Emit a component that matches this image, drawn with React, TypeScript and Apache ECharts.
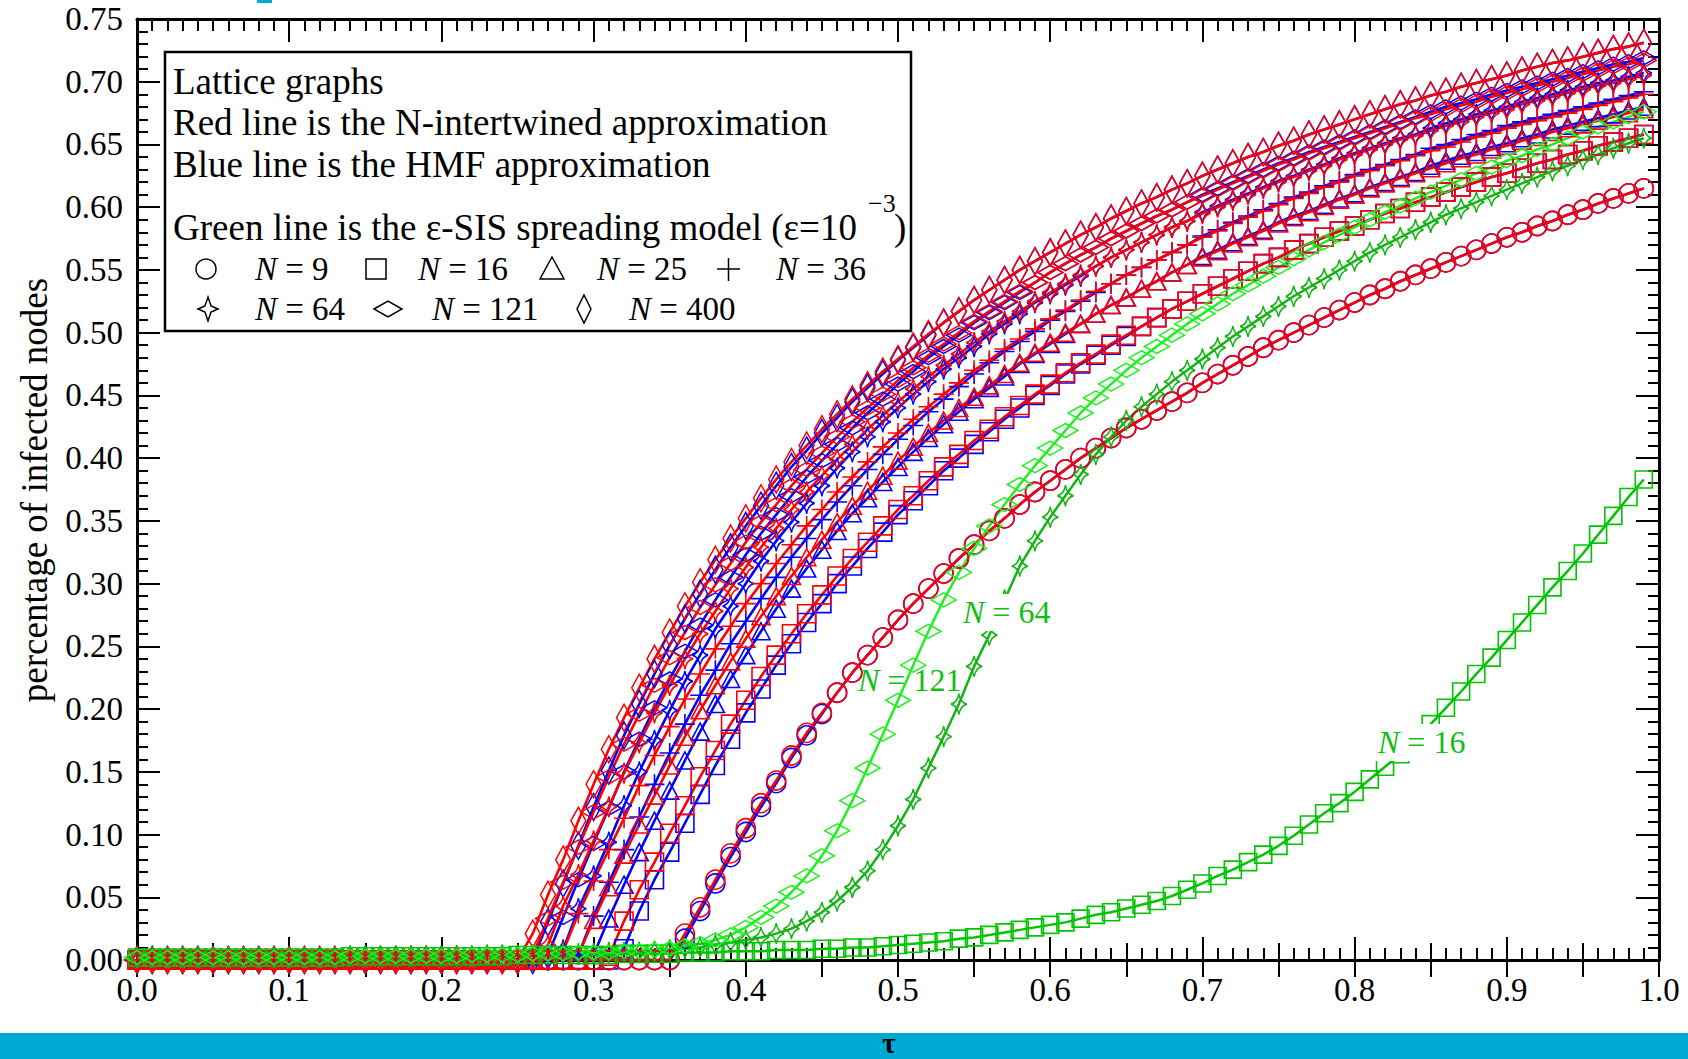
import React, { useEffect, useRef } from 'react';
import * as echarts from 'echarts';

// tau grid (x values of every marker)
const TAU = [
  0.00, 0.01, 0.02, 0.03, 0.04, 0.05, 0.06, 0.07, 0.08, 0.09,
  0.10, 0.11, 0.12, 0.13, 0.14, 0.15, 0.16, 0.17, 0.18, 0.19,
  0.20, 0.21, 0.22, 0.23, 0.24, 0.25, 0.26, 0.27, 0.28, 0.29,
  0.30, 0.31, 0.32, 0.33, 0.34, 0.35, 0.36, 0.37, 0.38, 0.39,
  0.40, 0.41, 0.42, 0.43, 0.44, 0.45, 0.46, 0.47, 0.48, 0.49,
  0.50, 0.51, 0.52, 0.53, 0.54, 0.55, 0.56, 0.57, 0.58, 0.59,
  0.60, 0.61, 0.62, 0.63, 0.64, 0.65, 0.66, 0.67, 0.68, 0.69,
  0.70, 0.71, 0.72, 0.73, 0.74, 0.75, 0.76, 0.77, 0.78, 0.79,
  0.80, 0.81, 0.82, 0.83, 0.84, 0.85, 0.86, 0.87, 0.88, 0.89,
  0.90, 0.91, 0.92, 0.93, 0.94, 0.95, 0.96, 0.97, 0.98, 0.99,
];

const X_TICKS = [0, 0.1, 0.2, 0.3, 0.4, 0.5, 0.6, 0.7, 0.8, 0.9, 1.0];
const Y_TICKS = [0, 0.05, 0.1, 0.15, 0.2, 0.25, 0.3, 0.35, 0.4, 0.45, 0.5, 0.55, 0.6, 0.65, 0.7, 0.75];

// ---- N-intertwined (red) and HMF (blue) ----
const RED_400 = [
  0,0,0,0,0,0,0,0,0,0, 0,0,0,0,0,0,0,0,0,0, 0,0,0,0,0,0,
  0.021,0.052,0.080,0.111,0.140,0.168,0.193,0.217,0.240,0.261,
  0.282,0.301,0.319,0.336,0.352,0.368,0.383,0.397,0.410,0.423,
  0.435,0.447,0.458,0.469,0.479,0.489,0.499,0.508,0.517,0.526,
  0.534,0.542,0.550,0.557,0.564,0.571,0.578,0.584,0.591,0.597,
  0.603,0.608,0.614,0.619,0.625,0.630,0.635,0.640,0.644,0.649,
  0.653,0.658,0.662,0.666,0.670,0.674,0.678,0.682,0.685,0.689,
  0.692,0.696,0.699,0.702,0.705,0.709,0.712,0.715,0.717,0.720,
  0.723,0.726,0.728,0.731,
];
const BLUE_400 = [
  0,0,0,0,0,0,0,0,0,0, 0,0,0,0,0,0,0,0,0,0, 0,0,0,0,0,0,0,
  0.030,0.061,0.091,0.122,0.151,0.179,0.204,0.228,0.251,
  0.272,0.292,0.311,0.329,0.346,0.362,0.378,0.393,0.406,0.420,
  0.432,0.445,0.456,0.467,0.478,0.488,0.498,0.508,0.517,0.526,
  0.534,0.542,0.550,0.557,0.564,0.571,0.578,0.584,0.591,0.597,
  0.603,0.608,0.614,0.619,0.625,0.630,0.635,0.640,0.644,0.649,
  0.653,0.658,0.662,0.666,0.670,0.674,0.678,0.682,0.685,0.689,
  0.692,0.696,0.699,0.702,0.705,0.709,0.712,0.715,0.717,0.720,
  0.723,0.726,0.728,0.731,
];
const RED_121 = [
  0,0,0,0,0,0,0,0,0,0, 0,0,0,0,0,0,0,0,0,0, 0,0,0,0,0,0,
  0.004,0.033,0.062,0.090,0.118,0.146,0.172,0.196,0.219,0.241,
  0.261,0.281,0.299,0.316,0.333,0.349,0.363,0.378,0.391,0.404,
  0.417,0.429,0.440,0.451,0.462,0.472,0.482,0.491,0.500,0.509,
  0.517,0.525,0.533,0.540,0.548,0.555,0.562,0.568,0.575,0.581,
  0.587,0.593,0.598,0.604,0.609,0.614,0.619,0.624,0.629,0.634,
  0.638,0.643,0.647,0.651,0.655,0.659,0.663,0.667,0.671,0.674,
  0.678,0.681,0.684,0.688,0.691,0.694,0.697,0.700,0.703,0.706,
  0.709,0.712,0.714,0.717,
];
const BLUE_121 = [
  0,0,0,0,0,0,0,0,0,0, 0,0,0,0,0,0,0,0,0,0, 0,0,0,0,0,0,0,
  0.004,0.034,0.064,0.093,0.121,0.150,0.176,0.201,0.224,
  0.246,0.267,0.287,0.305,0.323,0.340,0.355,0.370,0.385,0.398,
  0.411,0.424,0.436,0.447,0.459,0.469,0.480,0.489,0.498,0.508,
  0.516,0.524,0.532,0.540,0.548,0.555,0.562,0.568,0.575,0.581,
  0.587,0.593,0.598,0.604,0.610,0.615,0.620,0.625,0.630,0.635,
  0.639,0.644,0.648,0.652,0.656,0.660,0.664,0.668,0.672,0.676,
  0.680,0.683,0.686,0.690,0.693,0.696,0.699,0.702,0.705,0.708,
  0.711,0.714,0.716,0.719,
];
const RED_64 = [
  0,0,0,0,0,0,0,0,0,0, 0,0,0,0,0,0,0,0,0,0, 0,0,0,0,0,0,0,
  0.012,0.043,0.068,0.095,0.122,0.149,0.173,0.197,0.219,
  0.240,0.260,0.278,0.296,0.313,0.329,0.344,0.359,0.373,0.386,
  0.399,0.411,0.423,0.434,0.445,0.455,0.465,0.474,0.483,0.492,
  0.501,0.509,0.517,0.525,0.532,0.539,0.546,0.553,0.560,0.566,
  0.572,0.578,0.584,0.589,0.595,0.600,0.605,0.610,0.615,0.620,
  0.624,0.629,0.633,0.638,0.642,0.646,0.650,0.654,0.657,0.661,
  0.665,0.668,0.672,0.675,0.678,0.682,0.685,0.688,0.691,0.694,
  0.697,0.699,0.702,0.705,
];
const BLUE_64 = [
  0,0,0,0,0,0,0,0,0,0, 0,0,0,0,0,0,0,0,0,0, 0,0,0,0,0,0,0,0,
  0.008,0.041,0.067,0.094,0.123,0.150,0.175,0.199,
  0.222,0.243,0.264,0.282,0.300,0.318,0.334,0.349,0.364,0.378,
  0.392,0.405,0.417,0.429,0.440,0.451,0.461,0.471,0.480,0.489,
  0.499,0.507,0.515,0.524,0.531,0.538,0.545,0.553,0.560,0.566,
  0.572,0.578,0.584,0.589,0.596,0.601,0.606,0.611,0.616,0.621,
  0.625,0.630,0.634,0.639,0.643,0.647,0.651,0.655,0.658,0.663,
  0.667,0.670,0.674,0.677,0.680,0.684,0.687,0.690,0.693,0.696,
  0.699,0.701,0.704,0.707,
];
const RED_36 = [
  0,0,0,0,0,0,0,0,0,0, 0,0,0,0,0,0,0,0,0,0, 0,0,0,0,0,0,0,0,
  0.007,0.037,0.063,0.088,0.113,0.139,0.163,0.186,
  0.208,0.228,0.248,0.266,0.284,0.300,0.316,0.331,0.346,0.359,
  0.373,0.385,0.397,0.409,0.420,0.431,0.441,0.451,0.460,0.470,
  0.478,0.487,0.495,0.503,0.511,0.518,0.526,0.533,0.539,0.546,
  0.552,0.558,0.564,0.570,0.576,0.581,0.587,0.592,0.597,0.602,
  0.607,0.611,0.616,0.620,0.625,0.629,0.633,0.637,0.641,0.645,
  0.648,0.652,0.656,0.659,0.663,0.666,0.669,0.672,0.675,0.678,
  0.681,0.684,0.687,0.690,
];
const BLUE_36 = [
  0,0,0,0,0,0,0,0,0,0, 0,0,0,0,0,0,0,0,0,0, 0,0,0,0,0,0,0,0,0,
  0.004,0.035,0.062,0.088,0.114,0.140,0.165,
  0.188,0.211,0.231,0.252,0.270,0.288,0.305,0.321,0.336,0.351,
  0.365,0.378,0.391,0.403,0.415,0.426,0.437,0.447,0.457,0.467,
  0.476,0.485,0.493,0.501,0.510,0.517,0.525,0.532,0.539,0.546,
  0.552,0.558,0.564,0.570,0.577,0.582,0.588,0.593,0.598,0.603,
  0.608,0.612,0.617,0.621,0.626,0.630,0.634,0.638,0.642,0.647,
  0.650,0.654,0.658,0.661,0.665,0.668,0.671,0.674,0.677,0.680,
  0.683,0.686,0.689,0.692,
];
const RED_25 = [
  0,0,0,0,0,0,0,0,0,0, 0,0,0,0,0,0,0,0,0,0, 0,0,0,0,0,0,0,0,0,
  0.004,0.032,0.058,0.084,0.108,0.131,0.155,
  0.178,0.199,0.219,0.238,0.256,0.274,0.290,0.306,0.321,0.335,
  0.349,0.362,0.374,0.386,0.398,0.409,0.420,0.430,0.440,0.449,
  0.458,0.467,0.476,0.484,0.492,0.500,0.507,0.515,0.522,0.528,
  0.535,0.541,0.548,0.554,0.560,0.565,0.571,0.576,0.581,0.587,
  0.592,0.596,0.601,0.606,0.610,0.615,0.619,0.623,0.627,0.631,
  0.635,0.639,0.642,0.646,0.649,0.653,0.656,0.660,0.663,0.666,
  0.669,0.672,0.675,0.678,
];
const BLUE_25 = [
  0,0,0,0,0,0,0,0,0,0, 0,0,0,0,0,0,0,0,0,0, 0,0,0,0,0,0,0,0,0,0,
  0.004,0.033,0.060,0.086,0.111,0.135,
  0.159,0.182,0.204,0.224,0.243,0.262,0.280,0.296,0.312,0.327,
  0.342,0.356,0.368,0.381,0.393,0.405,0.416,0.427,0.437,0.447,
  0.456,0.465,0.475,0.483,0.491,0.499,0.507,0.515,0.522,0.528,
  0.535,0.541,0.548,0.554,0.561,0.566,0.572,0.577,0.582,0.588,
  0.593,0.597,0.602,0.607,0.611,0.616,0.620,0.624,0.628,0.633,
  0.637,0.641,0.644,0.648,0.651,0.655,0.658,0.662,0.665,0.668,
  0.671,0.674,0.677,0.680,
];
const RED_16 = [
  0,0,0,0,0,0,0,0,0,0, 0,0,0,0,0,0,0,0,0,0, 0,0,0,0,0,0,0,0,0,0, 0,
  0.003,0.031,0.056,0.078,0.101,
  0.123,0.146,0.167,0.188,0.207,0.226,0.243,0.260,0.276,0.291,
  0.306,0.320,0.333,0.346,0.359,0.370,0.382,0.393,0.403,0.414,
  0.423,0.433,0.442,0.451,0.459,0.468,0.476,0.483,0.491,0.498,
  0.505,0.512,0.519,0.525,0.531,0.537,0.543,0.549,0.555,0.560,
  0.566,0.571,0.576,0.581,0.585,0.590,0.595,0.599,0.604,0.608,
  0.612,0.616,0.620,0.624,0.627,0.631,0.635,0.638,0.642,0.645,
  0.649,0.652,0.655,0.658,
];
const BLUE_16 = [
  0,0,0,0,0,0,0,0,0,0, 0,0,0,0,0,0,0,0,0,0, 0,0,0,0,0,0,0,0,0,0, 0,0,
  0.009,0.039,0.064,0.086,
  0.109,0.132,0.155,0.176,0.197,0.216,0.235,0.252,0.269,0.284,
  0.300,0.314,0.328,0.341,0.355,0.366,0.378,0.390,0.400,0.411,
  0.421,0.431,0.440,0.450,0.458,0.467,0.475,0.482,0.490,0.497,
  0.505,0.512,0.519,0.525,0.531,0.537,0.543,0.549,0.555,0.560,
  0.566,0.571,0.576,0.581,0.585,0.590,0.595,0.599,0.604,0.608,
  0.612,0.616,0.620,0.624,0.627,0.631,0.635,0.638,0.642,0.645,
  0.649,0.652,0.655,0.658,
];
const RED_9 = [
  0,0,0,0,0,0,0,0,0,0, 0,0,0,0,0,0,0,0,0,0, 0,0,0,0,0,0,0,0,0,0, 0,0,0,0,0,0,
  0.021,0.042,0.064,0.085,0.105,0.125,0.143,0.163,0.181,0.197,
  0.213,0.229,0.243,0.257,0.271,0.284,0.296,0.308,0.320,0.331,
  0.342,0.352,0.363,0.373,0.382,0.391,0.400,0.408,0.416,0.424,
  0.431,0.438,0.445,0.452,0.460,0.467,0.474,0.481,0.488,0.494,
  0.500,0.506,0.512,0.518,0.524,0.530,0.535,0.541,0.546,0.551,
  0.556,0.561,0.566,0.571,0.576,0.580,0.585,0.589,0.594,0.598,
  0.603,0.607,0.611,0.615,
];
const BLUE_9 = [
  0,0,0,0,0,0,0,0,0,0, 0,0,0,0,0,0,0,0,0,0, 0,0,0,0,0,0,0,0,0,0, 0,0,0,0,0,0,
  0.017,0.039,0.061,0.082,0.102,0.122,0.141,0.161,0.179,0.196,
  0.213,0.229,0.243,0.257,0.271,0.284,0.296,0.308,0.320,0.331,
  0.342,0.352,0.363,0.373,0.382,0.391,0.400,0.408,0.416,0.424,
  0.431,0.438,0.445,0.452,0.460,0.467,0.474,0.481,0.488,0.494,
  0.500,0.506,0.512,0.518,0.524,0.530,0.535,0.541,0.546,0.551,
  0.556,0.561,0.566,0.571,0.576,0.580,0.585,0.589,0.594,0.598,
  0.603,0.607,0.611,0.615,
];

// ---- epsilon-SIS spreading model (green) ----
const GREEN_16 = [
  0.002,0.002,0.002,0.002,0.002,0.002,0.002,0.002,0.002,0.002,
  0.002,0.002,0.002,0.002,0.003,0.003,0.003,0.003,0.003,0.003,
  0.003,0.003,0.003,0.003,0.003,0.004,0.004,0.004,0.004,0.004,
  0.004,0.004,0.005,0.005,0.005,0.005,0.006,0.006,0.006,0.007,
  0.007,0.007,0.008,0.008,0.008,0.009,0.009,0.010,0.010,0.011,
  0.012,0.013,0.014,0.015,0.017,0.018,0.020,0.022,0.024,0.026,
  0.028,0.030,0.033,0.036,0.038,0.041,0.044,0.047,0.051,0.056,
  0.061,0.067,0.072,0.078,0.084,0.091,0.099,0.108,0.117,0.125,
  0.134,0.144,0.154,0.164,0.176,0.188,0.201,0.214,0.228,0.241,
  0.255,0.269,0.283,0.297,0.310,0.324,0.339,0.354,0.369,0.383,
];
const GREEN_64 = [
  0.002,0.002,0.002,0.002,0.002,0.002,0.002,0.002,0.002,0.002,
  0.002,0.002,0.002,0.002,0.003,0.003,0.003,0.003,0.003,0.003,
  0.003,0.003,0.003,0.004,0.004,0.004,0.004,0.005,0.005,0.005,
  0.005,0.006,0.006,0.006,0.007,0.008,0.009,0.010,0.012,0.014,
  0.016,0.018,0.021,0.025,0.031,0.038,0.047,0.058,0.071,0.088,
  0.107,0.128,0.153,0.178,0.204,0.234,0.259,0.287,0.314,0.334,
  0.353,0.370,0.387,0.403,0.417,0.430,0.441,0.451,0.461,0.470,
  0.479,0.488,0.497,0.505,0.513,0.521,0.529,0.536,0.543,0.550,
  0.557,0.564,0.570,0.576,0.582,0.588,0.594,0.599,0.604,0.609,
  0.614,0.619,0.624,0.629,0.633,0.638,0.642,0.647,0.651,0.655,
];
const GREEN_121 = [
  0.002,0.002,0.002,0.002,0.002,0.002,0.002,0.002,0.002,0.002,
  0.002,0.002,0.002,0.002,0.003,0.003,0.003,0.003,0.003,0.003,
  0.003,0.003,0.004,0.004,0.004,0.004,0.005,0.005,0.005,0.006,
  0.006,0.006,0.007,0.007,0.008,0.009,0.011,0.013,0.016,0.020,
  0.026,0.034,0.043,0.054,0.067,0.083,0.103,0.127,0.153,0.180,
  0.207,0.235,0.262,0.287,0.309,0.328,0.346,0.363,0.379,0.394,
  0.408,0.422,0.436,0.448,0.459,0.470,0.480,0.489,0.498,0.507,
  0.515,0.523,0.531,0.538,0.545,0.552,0.559,0.566,0.572,0.578,
  0.584,0.590,0.596,0.601,0.607,0.612,0.617,0.622,0.627,0.632,
  0.637,0.641,0.646,0.650,0.655,0.660,0.664,0.668,0.672,0.676,
];

const SERIF = '"Liberation Serif", "Times New Roman", serif';
const RED = '#ff0000';
const BLUE = '#0000ff';
const G_BRIGHT = '#1ef01e';
const G_DARK = '#12b412';
const G_MID = '#00c400';
const G_LABEL = '#10c010';

const STAR = 'path://M10,0 Q11.6,8.4 20,10 Q11.6,11.6 10,20 Q8.4,11.6 0,10 Q8.4,8.4 10,0 Z';
const PLUS = 'path://M0,10 L20,10 M10,0 L10,20';

const CURVES = [
  { n: '9', red: RED_9, blue: BLUE_9, symbol: 'circle', size: 19 as any },
  { n: '16', red: RED_16, blue: BLUE_16, symbol: 'rect', size: 18 as any },
  { n: '25', red: RED_25, blue: BLUE_25, symbol: 'triangle', size: [18, 17] as any },
  { n: '36', red: RED_36, blue: BLUE_36, symbol: PLUS, size: 20 as any },
  { n: '64', red: RED_64, blue: BLUE_64, symbol: STAR, size: [16, 21] as any },
  { n: '121', red: RED_121, blue: BLUE_121, symbol: 'diamond', size: [25, 14] as any },
  { n: '400', red: RED_400, blue: BLUE_400, symbol: 'diamond', size: [15, 27] as any },
];

const GREENS = [
  { n: '16', vals: GREEN_16, color: G_MID, symbol: 'rect', size: 17 as any },
  { n: '64', vals: GREEN_64, color: G_DARK, symbol: STAR, size: [16, 21] as any },
  { n: '121', vals: GREEN_121, color: G_BRIGHT, symbol: 'diamond', size: [25, 14] as any },
];

function pairs(vals: number[]) {
  return vals.map((v, i) => [TAU[i], v]);
}

function lineSeries(name: string, vals: number[], color: string, symbol: string, size: any, width: number) {
  return {
    type: 'line',
    name,
    data: pairs(vals),
    symbol,
    symbolSize: size,
    showSymbol: true,
    showAllSymbol: true,
    silent: true,
    emphasis: { disabled: true },
    lineStyle: { color, width },
    itemStyle: { color: 'rgba(0,0,0,0)', borderColor: color, borderWidth: 1.6 },
  };
}

function text(x: number, y: number, s: string, size: number, opts: any = {}) {
  return {
    type: 'text',
    x,
    y,
    z: 102,
    rotation: opts.rotation || 0,
    style: {
      text: s,
      font: `${opts.italic ? 'italic ' : ''}${opts.bold ? 'bold ' : ''}${size}px ${SERIF}`,
      fill: opts.fill || '#000',
      align: opts.align || 'left',
      verticalAlign: 'middle',
    },
  };
}

function nLabel(x: number, y: number, value: string, size: number, fill = '#000') {
  return [
    text(x, y, 'N', size, { italic: true, fill }),
    text(x + size * 0.667, y, ' = ' + value, size, { fill }),
  ];
}

function buildOption() {
  const blueSeries = CURVES.map((c) => lineSeries('HMF N=' + c.n, c.blue, BLUE, c.symbol, c.size, 2.6));
  const redSeries = CURVES.map((c) => lineSeries('NIMFA N=' + c.n, c.red, RED, c.symbol, c.size, 2.6));
  const greenSeries = GREENS.map((g) => lineSeries('eSIS N=' + g.n, g.vals, g.color, g.symbol, g.size, 2.5));

  const axisCommon = {
    type: 'value',
    splitLine: { show: false },
    axisLine: { show: true, onZero: false, lineStyle: { color: '#000', width: 3 } },
  };
  const tickStyle = { color: '#000', width: 2 };

  const xMain = (position: string, labels: boolean) => ({
    ...axisCommon,
    position,
    min: 0,
    max: 1,
    interval: 0.1,
    axisTick: { show: true, inside: true, length: 23, lineStyle: tickStyle },
    minorTick: { show: true, splitNumber: 10, length: 12, lineStyle: tickStyle },
    axisLabel: labels
      ? {
          show: true,
          margin: 13,
          fontFamily: SERIF,
          fontSize: 33,
          color: '#000',
          formatter: (v: number) => {
            const hit = X_TICKS.find((t) => Math.abs(t - v) < 1e-6);
            return hit === undefined ? '' : hit.toFixed(1);
          },
        }
      : { show: false },
  });
  const xMedium = (position: string) => ({
    type: 'value',
    position,
    min: 0,
    max: 1,
    interval: 0.05,
    splitLine: { show: false },
    axisLine: { show: false },
    axisLabel: { show: false },
    axisTick: { show: true, inside: true, length: 17, lineStyle: tickStyle },
  });
  const yMain = (position: string, labels: boolean) => ({
    ...axisCommon,
    position,
    min: 0,
    max: 0.75,
    interval: 0.05,
    axisTick: { show: true, inside: true, length: 23, lineStyle: tickStyle },
    minorTick: { show: true, splitNumber: 5, length: 11, lineStyle: tickStyle },
    axisLabel: labels
      ? {
          show: true,
          margin: 14,
          fontFamily: SERIF,
          fontSize: 33,
          color: '#000',
          formatter: (v: number) => {
            const hit = Y_TICKS.find((t) => Math.abs(t - v) < 1e-6);
            return hit === undefined ? '' : hit.toFixed(2);
          },
        }
      : { show: false },
  });

  const graphics: any[] = [
    // slide decorations
    { type: 'rect', z: 100, shape: { x: 257, y: 0, width: 15, height: 3 }, style: { fill: '#00a9d4' } },
    { type: 'rect', z: 100, shape: { x: 0, y: 1033, width: 1688, height: 26 }, style: { fill: '#00a9d4' } },
    text(889, 1043, 'τ', 29, { align: 'center', bold: true }),
    text(34, 490, 'percentage of infected nodes', 37, { align: 'center', rotation: Math.PI / 2 }),
    // legend box
    { type: 'rect', z: 100, shape: { x: 165, y: 52, width: 746, height: 279 }, style: { fill: '#fff', stroke: '#000', lineWidth: 2.5 } },
    text(173, 81, 'Lattice graphs', 37),
    text(173, 122, 'Red line is the N-intertwined approximation', 37),
    text(173, 164, 'Blue line is the HMF approximation', 37),
    text(173, 227, 'Green line is the ε-SIS spreading model (ε=10', 37),
    text(868, 203, '−3', 26),
    text(894, 227, ')', 37),
    // legend symbols, row 1
    { type: 'circle', z: 102, shape: { cx: 206, cy: 269, r: 10 }, style: { fill: 'none', stroke: '#000', lineWidth: 1.5 } },
    { type: 'rect', z: 102, shape: { x: 366, y: 259, width: 20, height: 20 }, style: { fill: 'none', stroke: '#000', lineWidth: 1.5 } },
    { type: 'polygon', z: 102, shape: { points: [[552, 257], [564, 279], [540, 279]] }, style: { fill: 'none', stroke: '#000', lineWidth: 1.5 } },
    { type: 'line', z: 102, shape: { x1: 717, y1: 269, x2: 740, y2: 269 }, style: { stroke: '#000', lineWidth: 1.5 } },
    { type: 'line', z: 102, shape: { x1: 728.5, y1: 258, x2: 728.5, y2: 281 }, style: { stroke: '#000', lineWidth: 1.5 } },
    ...nLabel(255, 269, '9', 33),
    ...nLabel(418, 269, '16', 33),
    ...nLabel(597, 269, '25', 33),
    ...nLabel(776, 269, '36', 33),
    // legend symbols, row 2
    { type: 'polygon', z: 102, shape: { points: [[208, 297], [211, 306], [218, 309], [211, 312], [208, 321], [205, 312], [198, 309], [205, 306]] }, style: { fill: 'none', stroke: '#000', lineWidth: 1.5 } },
    { type: 'polygon', z: 102, shape: { points: [[374, 309], [388, 301], [402, 309], [388, 317]] }, style: { fill: 'none', stroke: '#000', lineWidth: 1.5 } },
    { type: 'polygon', z: 102, shape: { points: [[584, 295], [591, 309], [584, 323], [577, 309]] }, style: { fill: 'none', stroke: '#000', lineWidth: 1.5 } },
    ...nLabel(255, 309, '64', 33),
    ...nLabel(432, 309, '121', 33),
    ...nLabel(629, 309, '400', 33),
    // green curve labels
    { type: 'rect', z: 100, shape: { x: 958, y: 594, width: 96, height: 37 }, style: { fill: '#fff' } },
    ...nLabel(963, 612, '64', 32, G_LABEL),
    ...nLabel(858, 680, '121', 32, G_LABEL),
    { type: 'rect', z: 100, shape: { x: 1374, y: 724, width: 95, height: 37 }, style: { fill: '#fff' } },
    ...nLabel(1378, 742, '16', 32, G_LABEL),
  ];

  return {
    animation: false,
    backgroundColor: '#fff',
    textStyle: { fontFamily: SERIF },
    grid: { left: 137, right: 29, top: 19, bottom: 99, containLabel: false },
    xAxis: [xMain('bottom', true), xMain('top', false), xMedium('bottom'), xMedium('top')],
    yAxis: [yMain('left', true), yMain('right', false)],
    series: [...blueSeries, ...redSeries, ...greenSeries],
    graphic: { elements: graphics },
  };
}

export default function App() {
  const ref = useRef<HTMLDivElement>(null);
  useEffect(() => {
    if (!ref.current) return;
    const chart = echarts.init(ref.current, undefined, { renderer: 'svg' });
    chart.setOption(buildOption() as any);
    return () => chart.dispose();
  }, []);
  return (
    <div
      ref={ref}
      style={{ position: 'fixed', left: 0, top: 0, width: 1688, height: 1059, background: '#fff' }}
    />
  );
}
